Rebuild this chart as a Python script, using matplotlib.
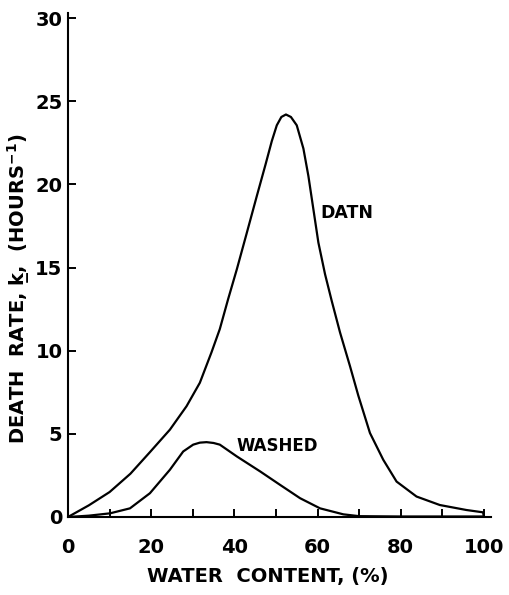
import matplotlib
matplotlib.use("Agg")
import matplotlib.pyplot as plt

# values
datn_x = [0, 5, 10, 15, 19.7, 24.5, 28.5, 31.7, 34.5, 36.5, 38.5, 40.6, 42.9, 45.4,
          47.5, 49.0, 50.2, 51.3, 52.4, 53.6, 55.0, 56.6, 57.8, 59.0, 60.2, 61.8,
          63.4, 65.4, 67.8, 69.8, 72.6, 75.8, 79.0, 83.8, 89.4, 95.8, 99.8, 100]
datn_y = [0, 0.7, 1.5, 2.6, 3.9, 5.25, 6.66, 8.07, 9.9, 11.3, 13.1, 14.9, 17.0, 19.3,
          21.2, 22.6, 23.55, 24.05, 24.2, 24.05, 23.55, 22.15, 20.5, 18.5, 16.5, 14.6,
          13.0, 11.1, 9.07, 7.3, 5.05, 3.44, 2.13, 1.23, 0.72, 0.42, 0.28, 0]

washed_x = [0, 5, 10.1, 14.9, 19.7, 24.5, 27.7, 30.1, 31.7, 33.3, 35, 36.5, 40.6,
            46.2, 51.0, 55.8, 60.6, 66.2, 70, 80, 90, 100]
washed_y = [0, 0.08, 0.22, 0.52, 1.43, 2.84, 3.94, 4.35, 4.47, 4.5, 4.45, 4.35, 3.64,
            2.74, 1.93, 1.13, 0.52, 0.16, 0.05, 0.03, 0.03, 0.03]

xticks = [0, 20, 40, 60, 80, 100]
yticks = [0, 5, 10, 15, 20, 25, 30]

plt.rcParams['font.family'] = 'DejaVu Sans'
plt.rcParams['font.weight'] = 'bold'
plt.rcParams['mathtext.default'] = 'bf'

fig = plt.figure(figsize=(5.09, 5.95), dpi=100)
ax = fig.add_axes([0.1336, 0.1311, 0.831, 0.847])

ax.plot(datn_x, datn_y, color='black', lw=1.6)
ax.plot(washed_x, washed_y, color='black', lw=1.6)

ax.text(60.6, 18.3, 'DATN', fontsize=12.5, fontweight='bold', va='center')
ax.text(40.6, 4.25, 'WASHED', fontsize=12, fontweight='bold', va='center')

ax.set_xlim(0, 101.7)
ax.set_ylim(0, 30.3)
ax.spines['top'].set_visible(False)
ax.spines['right'].set_visible(False)
for s in ['left', 'bottom']:
    ax.spines[s].set_linewidth(1.5)

ax.set_xticks(xticks)
ax.set_xticks([10, 30, 50, 70, 90], minor=True)
ax.set_yticks(yticks)
ax.tick_params(axis='both', which='both', direction='in', length=5.5, width=1.4)
ax.tick_params(axis='x', pad=15, labelsize=14)
ax.tick_params(axis='y', pad=4, labelsize=14)
for lab in ax.get_xticklabels() + ax.get_yticklabels():
    lab.set_fontweight('bold')

fig.text(0.527, 0.015, 'WATER  CONTENT, (%)', fontsize=14, fontweight='bold',
         ha='center', va='bottom')
fig.text(0.036, 0.515, 'DEATH  RATE, k\u0332,  (HOURS$^{-1}$)', fontsize=14,
         fontweight='bold', rotation=90, ha='center', va='center')

fig.savefig('out.png', dpi=100)
